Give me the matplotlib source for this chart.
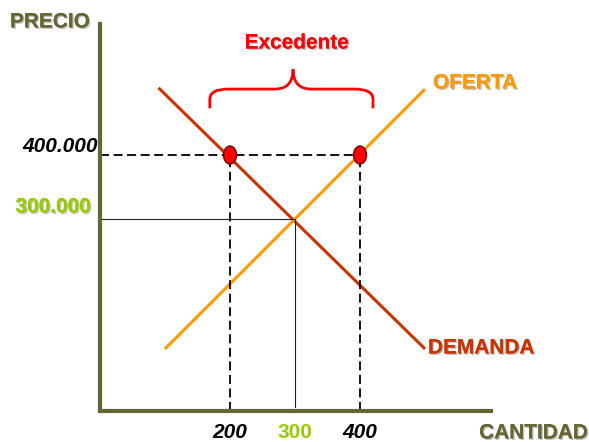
import matplotlib
matplotlib.use('agg')
import matplotlib.pyplot as plt
import matplotlib.patheffects as pe
from matplotlib.patches import Ellipse, PathPatch
from matplotlib.path import Path

# Datos del grafico (cantidad, precio)
demanda_q = [90, 500]
demanda_p = [505000, 97000]
oferta_q = [100, 500]
oferta_p = [97000, 503000]

precio_alto = 400000
q_demandada = 200
q_ofrecida = 400
q_equilibrio = 300
p_equilibrio = 300000

x_ticks = [200, 300, 400]
x_labels = ['200', '300', '400']
x_colors = ['black', '#99CC00', 'black']
x_styles = ['italic', 'normal', 'italic']

plt.rcParams['font.family'] = ['Liberation Sans', 'DejaVu Sans']
FS = 15
OLIVE = '#666633'
shadow = [pe.withSimplePatchShadow(offset=(1, -1), shadow_rgbFace='#999999', alpha=0.6), pe.Normal()]

fig = plt.figure(figsize=(5.89, 4.42), dpi=100)
W, H = 589, 442
# axes con el origen en el cruce de los ejes
ax = fig.add_axes([100 / W, 31 / H, 391 / W, 387 / H])
ax.set_xlim(0, 601.5)
ax.set_ylim(0, 604700)
for s in ['top', 'right']:
    ax.spines[s].set_visible(False)
for s in ['left', 'bottom']:
    ax.spines[s].set_color(OLIVE)
    ax.spines[s].set_linewidth(3)
ax.set_xticks([])
ax.set_yticks([])

# Curvas
ax.plot(demanda_q, demanda_p, color='#CC3300', lw=2.2, clip_on=False, solid_capstyle='butt')
ax.plot(oferta_q, oferta_p, color='#FF9900', lw=2.2, clip_on=False, solid_capstyle='butt')

# Lineas guia
ax.plot([0, q_ofrecida], [precio_alto, precio_alto], color='black', lw=1.3, ls=(0, (5, 2.5)))
ax.plot([q_demandada, q_demandada], [0, precio_alto], color='black', lw=1.3, ls=(0, (5, 2.5)))
ax.plot([q_ofrecida, q_ofrecida], [0, precio_alto], color='black', lw=1.3, ls=(0, (5, 2.5)))
ax.plot([0, q_equilibrio], [p_equilibrio, p_equilibrio], color='#222222', lw=0.8)
ax.plot([q_equilibrio, q_equilibrio], [6000, p_equilibrio], color='#222222', lw=0.8)

# Puntos de exceso
for q in [q_demandada, q_ofrecida]:
    ax.add_patch(Ellipse((q, precio_alto), 20, 28000, facecolor='#FF0000',
                         edgecolor='#660000', lw=1, zorder=5))

# Llave del excedente
x0, x1, xc = q_demandada - 31, q_ofrecida + 20, q_equilibrio - 3
yb, ym, yt = 473000, 503000, 534000
r = 28
verts = [(x0, yb), (x0, ym - 16000), (x0, ym), (x0 + r, ym), (xc - r, ym), (xc, ym), (xc, yt),
         (xc, ym), (xc + r, ym), (x1 - r, ym), (x1, ym), (x1, ym - 16000), (x1, yb)]
codes = [Path.MOVETO, Path.LINETO, Path.CURVE3, Path.CURVE3, Path.LINETO, Path.CURVE3, Path.CURVE3,
         Path.CURVE3, Path.CURVE3, Path.LINETO, Path.CURVE3, Path.CURVE3, Path.LINETO]
ax.add_patch(PathPatch(Path(verts, codes), facecolor='none', edgecolor='#FF0000', lw=2, clip_on=False))

# Textos
def px(x, y):
    return x / W, 1 - y / H

fig.text(*px(10, 22), 'PRECIO', color=OLIVE, fontsize=FS, fontweight='bold', va='center', path_effects=shadow)
fig.text(*px(588, 433), 'CANTIDAD', color=OLIVE, fontsize=FS, fontweight='bold', va='center', ha='right', path_effects=shadow)
fig.text(*px(297, 43), 'Excedente', color='#FF0000', fontsize=FS, fontweight='bold', va='center', ha='center', path_effects=shadow)
fig.text(*px(433, 83), 'OFERTA', color='#FF9900', fontsize=FS, fontweight='bold', va='center', path_effects=shadow)
fig.text(*px(428, 348), 'DEMANDA', color='#CC3300', fontsize=FS, fontweight='bold', va='center', path_effects=shadow)
fig.text(*px(98, 147), '400.000', color='black', fontsize=FS, fontweight='bold', fontstyle='italic', va='center', ha='right')
fig.text(*px(91, 207), '300.000', color='#99CC00', fontsize=FS, fontweight='bold', va='center', ha='right', path_effects=shadow)

for q, lab, c, st in zip(x_ticks, x_labels, x_colors, x_styles):
    ax.annotate(lab, (q, 0), xytext=(0, -22), textcoords='offset pixels', color=c, fontsize=FS,
                fontweight='bold', fontstyle=st, ha='center', va='center', annotation_clip=False)

fig.savefig('out.png', dpi=100)
